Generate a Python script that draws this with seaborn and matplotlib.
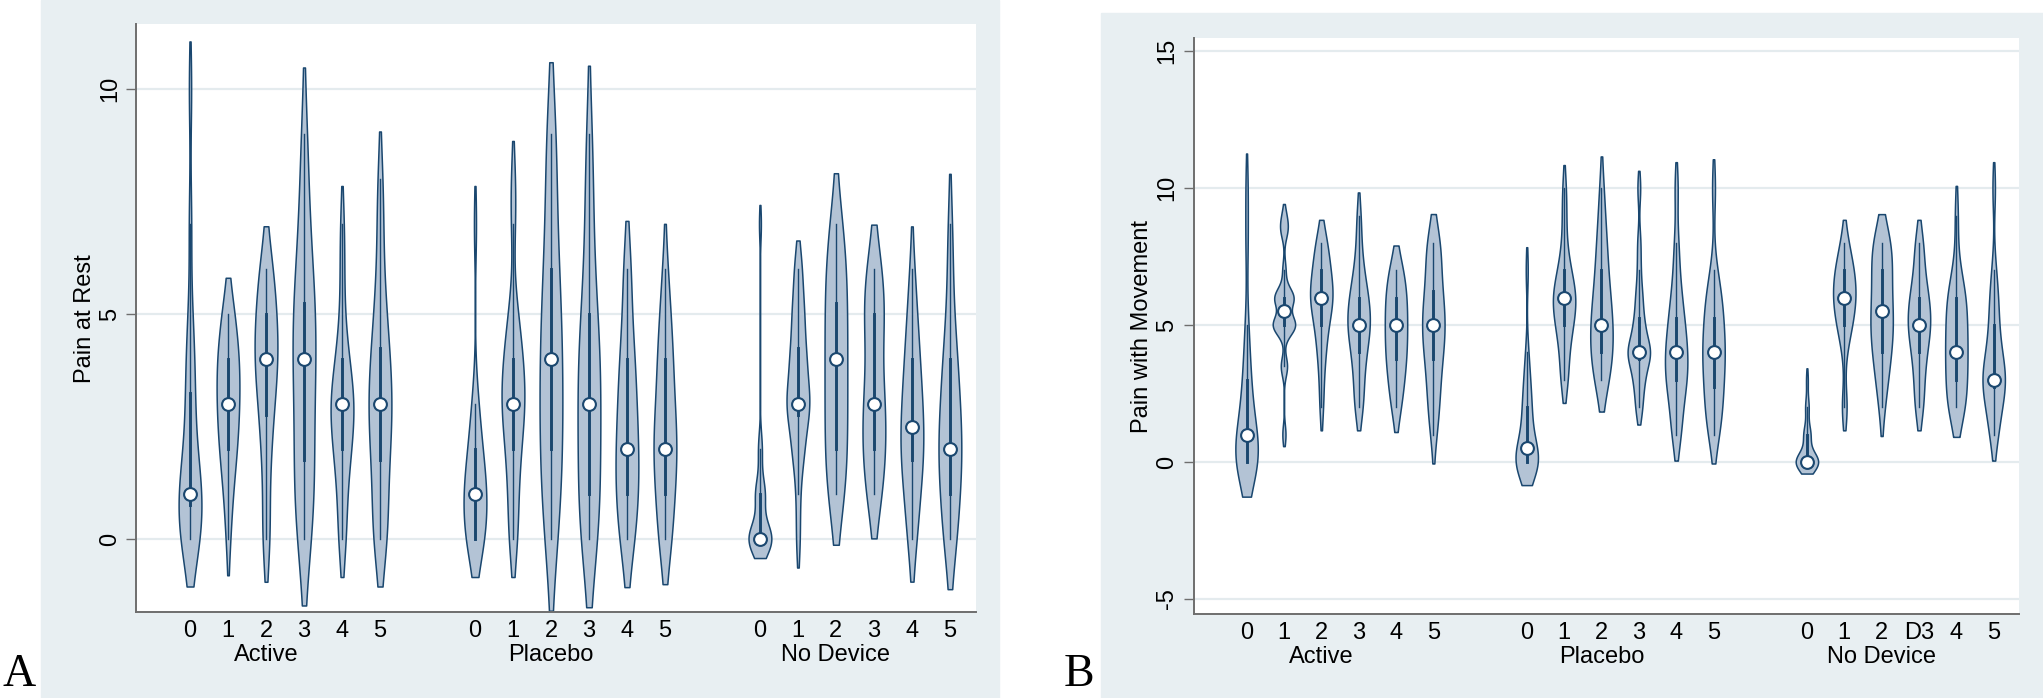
import numpy as np
import pandas as pd
import matplotlib
matplotlib.use("Agg")
import matplotlib.pyplot as plt
from matplotlib.patches import Rectangle
import seaborn as sns

# pain scores per patient, one list per time point (0..5)
rest_active = [
    [0, 0, 0, 0, 0, 1, 1, 1, 1, 1, 1, 2, 2, 3, 3, 4, 4, 5, 7, 10],
    [0, 1, 1, 2, 2, 2, 2, 3, 3, 3, 3, 3, 4, 4, 4, 4, 4, 5, 5, 5],
    [0, 0, 1, 2, 2, 3, 3, 3, 4, 4, 4, 4, 4, 5, 5, 5, 5, 6, 6, 6],
    [0, 0, 1, 1, 1, 2, 2, 3, 3, 4, 4, 4, 5, 5, 5, 6, 6, 7, 8, 9],
    [0, 0, 1, 1, 2, 2, 2, 2, 3, 3, 3, 3, 3, 3, 4, 4, 4, 5, 6, 7],
    [0, 0, 0, 1, 1, 2, 2, 2, 3, 3, 3, 3, 4, 4, 4, 5, 5, 6, 7, 8],
]
rest_placebo = [
    [0, 0, 0, 0, 0, 0, 1, 1, 1, 1, 1, 1, 1, 2, 2, 2, 2, 3, 3, 7],
    [0, 0, 1, 1, 2, 2, 2, 3, 3, 3, 3, 3, 4, 4, 4, 4, 5, 5, 7, 8],
    [0, 0, 1, 1, 2, 2, 2, 3, 3, 4, 4, 4, 5, 5, 6, 6, 7, 8, 9, 9],
    [0, 0, 0, 1, 1, 1, 2, 2, 3, 3, 3, 4, 4, 4, 5, 5, 6, 7, 8, 9],
    [0, 0, 0, 1, 1, 1, 1, 2, 2, 2, 2, 3, 3, 3, 4, 4, 4, 5, 6, 6],
    [0, 0, 0, 1, 1, 1, 2, 2, 2, 2, 2, 3, 3, 3, 4, 4, 4, 5, 5, 6],
]
rest_nodevice = [
    [0, 0, 0, 0, 0, 0, 0, 0, 0, 0, 0, 0, 1, 1, 1, 1, 1, 2, 2, 7],
    [0, 1, 2, 2, 2, 3, 3, 3, 3, 3, 3, 4, 4, 4, 4, 5, 5, 5, 6, 6],
    [1, 1, 1, 2, 2, 2, 3, 3, 3, 4, 4, 4, 5, 5, 5, 6, 6, 6, 7, 7],
    [1, 1, 1, 2, 2, 2, 2, 3, 3, 3, 3, 4, 4, 5, 5, 5, 5, 6, 6, 6],
    [0, 0, 1, 1, 1, 2, 2, 2, 2, 2, 3, 3, 3, 3, 4, 4, 4, 5, 5, 6],
    [0, 0, 0, 1, 1, 1, 2, 2, 2, 2, 2, 3, 3, 3, 4, 4, 4, 5, 6, 7],
]
move_active = [
    [0, 0, 0, 0, 0, 0, 0, 0, 1, 1, 1, 1, 2, 2, 3, 3, 4, 5, 8, 10],
    [1, 3.5, 3.5, 5, 5, 5, 5, 5, 5, 5, 6, 6, 6, 6, 6, 6, 7, 8.5, 8.5, 9],
    [2, 3, 4, 4, 5, 5, 5, 6, 6, 6, 6, 6, 6, 7, 7, 7, 7, 8, 8, 8],
    [2, 2, 3, 3, 4, 4, 4, 5, 5, 5, 5, 5, 6, 6, 6, 6, 7, 7, 8, 9],
    [2, 2, 3, 3, 3, 4, 4, 4, 4, 5, 5, 5, 5, 6, 6, 6, 6, 7, 7, 7],
    [1, 2, 2, 3, 3, 4, 4, 4, 5, 5, 5, 5, 6, 6, 6, 7, 7, 8, 8, 8],
]
move_placebo = [
    [0, 0, 0, 0, 0, 0, 0, 0, 0, 0, 1, 1, 1, 2, 2, 2, 3, 3, 4, 7],
    [3, 3, 4, 4, 5, 5, 5, 5, 6, 6, 6, 6, 6, 6, 7, 7, 7, 8, 9, 10],
    [3, 3, 3, 4, 4, 4, 4, 5, 5, 5, 5, 6, 6, 6, 7, 7, 8, 8, 9, 10],
    [2, 2, 3, 3, 3, 4, 4, 4, 4, 4, 4, 4, 5, 5, 5, 6, 6, 7, 8, 10],
    [1, 1, 2, 2, 3, 3, 3, 3, 4, 4, 4, 4, 5, 5, 5, 6, 6, 7, 8, 10],
    [1, 1, 2, 2, 2, 3, 3, 3, 4, 4, 4, 4, 5, 5, 5, 6, 6, 6, 7, 10],
]
move_nodevice = [
    [0, 0, 0, 0, 0, 0, 0, 0, 0, 0, 0, 0, 0, 1, 1, 1, 1, 2, 2, 3],
    [2, 2, 4, 5, 5, 5, 5, 6, 6, 6, 6, 6, 6, 7, 7, 7, 7, 7, 8, 8],
    [2, 3, 3, 4, 4, 4, 5, 5, 5, 5, 6, 6, 6, 7, 7, 7, 8, 8, 8, 8],
    [2, 2, 3, 3, 4, 4, 4, 5, 5, 5, 5, 5, 6, 6, 6, 6, 7, 7, 8, 8],
    [2, 2, 2, 2, 3, 3, 3, 4, 4, 4, 4, 5, 5, 5, 6, 6, 6, 6, 7, 9],
    [1, 1, 2, 2, 2, 3, 3, 3, 3, 3, 3, 4, 4, 4, 5, 5, 6, 6, 7, 10],
]

arms = ["Active", "Placebo", "No Device"]
times = ["0", "1", "2", "3", "4", "5"]
ticks_rest = times * 3
ticks_move = times * 3
ticks_move[15] = "D3"   # as printed in the original figure

navy = "#1A476F"
fill = "#B3C3D5"
bg = "#E8EFF2"
grid_c = "#E4EBEE"
axis_c = "#6E6E6E"
GAP = 7.5   # distance between arm blocks on the x axis

plt.rcParams["font.family"] = ["Liberation Sans", "DejaVu Sans"]


def stata_bw(kde):
    # kdensity default: 0.9 * min(sd, iqr/1.349) * n^(-1/5)
    x = kde.dataset.ravel()
    sd = x.std(ddof=1)
    q1, q3 = np.percentile(x, [25, 75])
    m = min(sd, (q3 - q1) / 1.349)
    if m <= 0:
        m = sd
    return 0.9 * m * len(x) ** -0.2 / sd


def long_table(groups):
    rows = []
    for a, arm in enumerate(groups):
        for t, scores in enumerate(arm):
            for s in scores:
                rows.append({"pos": a * GAP + t, "score": s})
    return pd.DataFrame(rows)


def draw(ax, groups, ylabel, yticks, ylim, xticklabels, grp_y):
    df = long_table(groups)
    ax.set_facecolor("white")
    sns.violinplot(data=df, x="pos", y="score", native_scale=True, orient="x",
                   density_norm="width", width=0.6, cut=1.15, bw_method=stata_bw,
                   gridsize=300, inner="box",
                   inner_kws=dict(box_width=2.1, whis_width=1.0),
                   color=fill, linecolor=navy, linewidth=1.1, saturation=1, ax=ax)
    med = df.groupby("pos")["score"].median().reset_index()
    sns.scatterplot(data=med, x="pos", y="score", s=85, color="white",
                    edgecolor=navy, linewidth=1.5, zorder=6, legend=False, ax=ax)

    pos = sorted(df["pos"].unique())
    ax.set_xticks(pos, xticklabels)
    ax.set_xlim(-1.42, 2 * GAP + 5.68)
    ax.set_ylim(*ylim)
    ax.set_yticks(yticks, [str(v) for v in yticks], rotation=90, va="center")
    ax.tick_params(axis="x", length=0, pad=6, labelsize=17)
    ax.tick_params(axis="y", length=7, width=1, color=axis_c, pad=4, labelsize=17)
    ax.set_xlabel("")
    ax.set_ylabel(ylabel, fontsize=17, labelpad=2)
    ax.yaxis.grid(True, color=grid_c, lw=1.6)
    ax.set_axisbelow(True)
    for side in ["top", "right"]:
        ax.spines[side].set_visible(False)
    for side in ["left", "bottom"]:
        ax.spines[side].set_color(axis_c)
        ax.spines[side].set_linewidth(1.4)
    # arm names sit under the third tick of each block
    for a, arm in enumerate(arms):
        ax.text(a * GAP + 2, grp_y, arm, fontsize=17, ha="center", va="center",
                transform=ax.get_xaxis_transform())


fig = plt.figure(figsize=(20.43, 6.98), dpi=100)
fig.patches.append(Rectangle((0.0201, 0.0), 0.4689, 1.0, transform=fig.transFigure,
                             color=bg, zorder=-5))
fig.patches.append(Rectangle((0.5389, 0.0), 0.4611, 0.982, transform=fig.transFigure,
                             color=bg, zorder=-5))

ax1 = fig.add_axes([0.0666, 0.1232, 0.4110, 0.8417])
draw(ax1, [rest_active, rest_placebo, rest_nodevice], "Pain at Rest",
     [0, 5, 10], (-1.62, 11.43), ticks_rest, -0.073)

ax2 = fig.add_axes([0.5842, 0.1203, 0.4041, 0.8252])
draw(ax2, [move_active, move_placebo, move_nodevice], "Pain with Movement",
     [-5, 0, 5, 10, 15], (-5.55, 15.48), ticks_move, -0.075)

fig.text(0.001, 0.003, "A", family="Liberation Serif", fontsize=33, va="bottom")
fig.text(0.5205, 0.003, "B", family="Liberation Serif", fontsize=33, va="bottom")

fig.savefig("out.png", dpi=100)
